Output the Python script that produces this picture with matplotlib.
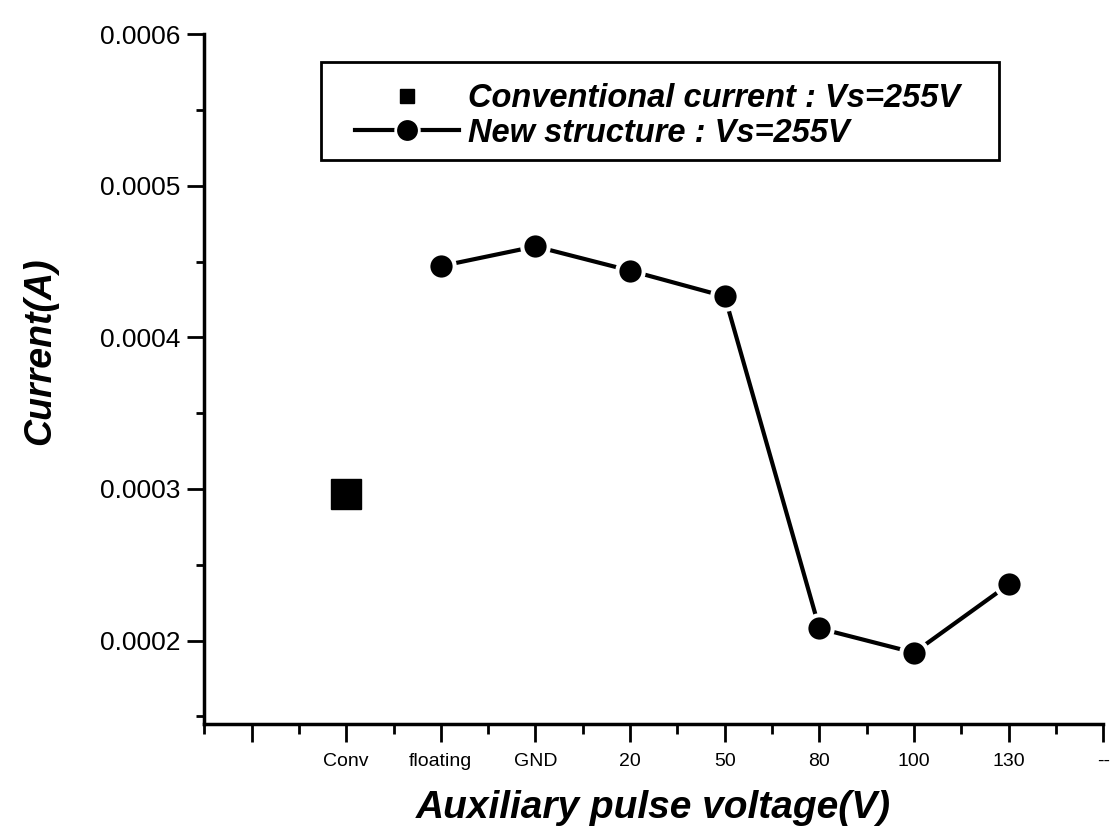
import matplotlib
matplotlib.use("Agg")
import matplotlib.pyplot as plt
from matplotlib.ticker import MultipleLocator, FixedLocator
from matplotlib.lines import Line2D
from matplotlib.patches import Rectangle

plt.rcParams['font.family'] = ['Liberation Sans', 'DejaVu Sans']

# --- data ---
tick_labels = ["", "Conv", "floating", "GND", "20", "50", "80", "100", "130", "--"]
conv_label = "Conv"
conv_current = [0.000297]
new_labels = ["floating", "GND", "20", "50", "80", "100", "130"]
new_current = [0.000447, 0.000460, 0.000444, 0.000427, 0.000208, 0.000192, 0.000237]

fig = plt.figure(figsize=(11.10, 8.34), dpi=100)
ax = fig.add_axes([0.184, 0.132, 0.810, 0.827])

pos = {lab: i for i, lab in enumerate(tick_labels)}
xs_conv = [pos[conv_label]]
xs_new = [pos[l] for l in new_labels]

ax.plot(xs_conv, conv_current, linestyle='none', marker='s', markersize=21,
        color='black', label='Conventional current : Vs=255V')
ax.plot(xs_new, new_current, color='black', linewidth=3, marker='o',
        markersize=19, markeredgecolor='white', markeredgewidth=3,
        markerfacecolor='black', label='New structure : Vs=255V')

ax.set_xlim(-0.5, 9.0)
ax.set_ylim(0.000145, 0.0006)

ax.xaxis.set_major_locator(FixedLocator(range(len(tick_labels))))
ax.set_xticklabels(tick_labels, fontsize=14)
ax.xaxis.set_minor_locator(FixedLocator([i + 0.5 for i in range(-1, 9)]))
ax.yaxis.set_major_locator(MultipleLocator(0.0001))
ax.yaxis.set_minor_locator(MultipleLocator(0.00005))
ax.yaxis.set_major_formatter(plt.FormatStrFormatter('%.4f'))

for lab in ax.get_yticklabels():
    lab.set_fontsize(19)

ax.tick_params(axis='x', which='major', direction='out', length=13, width=2, pad=8)
ax.tick_params(axis='x', which='minor', direction='out', length=7, width=2)
ax.tick_params(axis='y', which='major', direction='out', length=12, width=2, pad=5)
ax.tick_params(axis='y', which='minor', direction='out', length=6, width=2)

for s in ['top', 'right']:
    ax.spines[s].set_visible(False)
for s in ['left', 'bottom']:
    ax.spines[s].set_linewidth(2.5)

ax.set_xlabel('Auxiliary pulse voltage(V)', fontsize=28, fontweight='bold',
              fontstyle='italic', labelpad=14)
ax.set_ylabel('Current(A)', fontsize=27, fontweight='bold', fontstyle='italic')
ax.yaxis.set_label_coords(-0.162, 0.54)

# legend frame
W, H = 1110, 834
fig.patches.append(Rectangle((321 / W, 1 - 160 / H), (999 - 321) / W, (160 - 62) / H,
                             transform=fig.transFigure, fill=False,
                             edgecolor='black', linewidth=2))

h_conv = Line2D([], [], linestyle='none', marker='s', markersize=10, color='black')
h_new = Line2D([], [], color='black', linewidth=3, marker='o', markersize=17,
               markeredgecolor='white', markeredgewidth=2)
leg = ax.legend([h_conv, h_new],
                ['Conventional current : Vs=255V', 'New structure : Vs=255V'],
                loc='upper left', bbox_to_anchor=(355 / W, 1 - 83 / H),
                bbox_transform=fig.transFigure, frameon=False,
                handlelength=3.2, handletextpad=0.25,
                borderpad=0, borderaxespad=0, labelspacing=0.12,
                prop={'size': 23.5, 'weight': 'bold', 'style': 'italic'})

fig.savefig('out.png', dpi=100)
